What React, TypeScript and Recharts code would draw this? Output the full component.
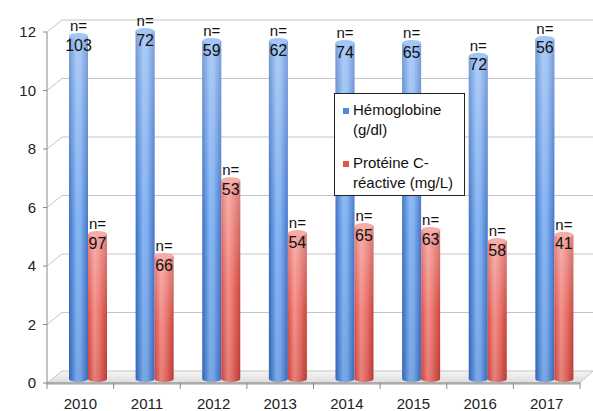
import React from "react"
import { Bar, BarChart, CartesianGrid, LabelList, XAxis, YAxis } from "recharts"

// values
const years = ["2010", "2011", "2012", "2013", "2014", "2015", "2016", "2017"]
const hemoglobin = [11.83, 12.0, 11.66, 11.66, 11.59, 11.59, 11.15, 11.73]
const crp = [5.06, 4.31, 6.9, 5.09, 5.33, 5.2, 4.82, 5.03]
const nHemoglobin = [103, 72, 59, 62, 74, 65, 72, 56]
const nCrp = [97, 66, 53, 54, 65, 63, 58, 41]
const yTicks = [0, 2, 4, 6, 8, 10, 12]
const seriesNames = ["Hémoglobine (g/dl)", "Protéine C-réactive (mg/L)"]

const data = years.map((year, i) => ({
  year,
  hb: hemoglobin[i],
  crp: crp[i],
  nHb: nHemoglobin[i],
  nCrp: nCrp[i],
}))

const W = 593
const H = 411
const Y_AXIS_W = 47
const X_AXIS_H = 28
// axis sizes get added on top of the margin
const margin = { top: 32, right: 13, bottom: 0, left: 0 }
const FONT = '"Liberation Sans", Arial, Helvetica, sans-serif'

// fake depth: bars sit halfway into the floor, back wall sits further back
const DX = 8
const DY = -4
const WALL_DX = 15
const WALL_DY = -12

const halfBand = (W - Y_AXIS_W - margin.right) / years.length / 2
const bottomY = H - X_AXIS_H

const colors = { hb: "#4f87dc", crp: "#e0554c" }
const caps = { hb: "#a3c6f6", crp: "#f7aca6" }

function cylinder(kind: "hb" | "crp") {
  return (props: any) => {
    const { x, y, width, height } = props
    if (height == null || height <= 0) return <g />
    const left = x + DX
    const top = y + DY
    const rx = width / 2
    const ry = 3
    const bottom = top + height
    const d = `M${left},${top + ry} L${left},${bottom} A${rx},${ry} 0 0 0 ${left + width},${bottom} L${left + width},${top + ry} Z`
    return (
      <g>
        <path d={d} fill={`url(#${kind}H)`} />
        <path d={d} fill="url(#shadeV)" />
        <ellipse cx={left + rx} cy={top + ry} rx={rx} ry={ry} fill={caps[kind]} />
      </g>
    )
  }
}

function countLabel(props: any) {
  const { x, y, width, value } = props
  const cx = x + width / 2 + DX
  const top = y + DY
  return (
    <g fontFamily={FONT} fill="#111" textAnchor="middle">
      <text x={cx} y={top - 7} dy="0.35em" fontSize={15}>
        n=
      </text>
      <text x={cx} y={top + 12} dy="0.35em" fontSize={16}>
        {value}
      </text>
    </g>
  )
}

function gridLine(props: any) {
  const { x1, y1, x2, index } = props
  const isFloor = Math.abs(y1 - bottomY) < 1
  if (isFloor) {
    return (
      <g key={`floor-${index}`}>
        <polygon
          points={`${x1},${y1} ${x2},${y1} ${x2 + WALL_DX - 2},${y1 + WALL_DY} ${x1 + WALL_DX},${y1 + WALL_DY}`}
          fill="url(#floorG)"
          stroke="#c4c4c4"
        />
        <rect x={x1} y={y1} width={x2 - x1} height={2} fill="#cfcfcf" />
      </g>
    )
  }
  return (
    <g key={`grid-${index}`} stroke="#c4c4c4" strokeWidth={1}>
      <line x1={x1} y1={y1} x2={x1 + WALL_DX} y2={y1 + WALL_DY} />
      <line x1={x1 + WALL_DX} y1={y1 + WALL_DY} x2={W} y2={y1 + WALL_DY} />
    </g>
  )
}

function YearTick(props: any) {
  const { x, y, payload, index } = props
  const axisY = y - 15
  return (
    <g>
      <line x1={x - halfBand} y1={axisY} x2={x - halfBand} y2={axisY + 6} stroke="#888" />
      {index === years.length - 1 && (
        <line x1={x + halfBand} y1={axisY} x2={x + halfBand} y2={axisY + 6} stroke="#888" />
      )}
      <text x={x} y={y} dy="0.71em" textAnchor="middle" fontFamily={FONT} fontSize={15} fill="#222">
        {payload.value}
      </text>
    </g>
  )
}

function LegendBox() {
  const keys: ("hb" | "crp")[] = ["hb", "crp"]
  return (
    <div
      style={{
        position: "absolute",
        left: 334,
        top: 93,
        boxSizing: "border-box",
        width: 131,
        height: 103,
        border: "1px solid #222",
        background: "#fff",
        padding: "6px 2px 0 8px",
        fontFamily: FONT,
        fontSize: 15,
        lineHeight: "20px",
        color: "#111",
        textAlign: "left",
      }}
    >
      {keys.map((k, i) => (
        <div key={k} style={{ display: "flex", alignItems: "flex-start", marginBottom: 13 }}>
          <span
            style={{
              display: "inline-block",
              width: 6,
              height: 6,
              background: colors[k],
              marginTop: 8,
              marginRight: 4,
              flex: "none",
            }}
          />
          <span style={{ width: 110 }}>{seriesNames[i]}</span>
        </div>
      ))}
    </div>
  )
}

export default function App() {
  return (
    <div style={{ position: "absolute", left: 0, top: 0, width: W, height: H, background: "#fff" }}>
      <BarChart width={W} height={H} data={data} margin={margin} barSize={19} barGap={0}>
        <defs>
          <linearGradient id="hbH" x1="0" y1="0" x2="1" y2="0">
            <stop offset="0" stopColor="#3269c2" />
            <stop offset="0.4" stopColor="#80b2f3" />
            <stop offset="0.6" stopColor="#7cadf0" />
            <stop offset="1" stopColor="#3a6ec6" />
          </linearGradient>
          <linearGradient id="crpH" x1="0" y1="0" x2="1" y2="0">
            <stop offset="0" stopColor="#d8473f" />
            <stop offset="0.35" stopColor="#f28a83" />
            <stop offset="0.6" stopColor="#ea6f67" />
            <stop offset="1" stopColor="#c63d35" />
          </linearGradient>
          <linearGradient id="shadeV" x1="0" y1="0" x2="0" y2="1">
            <stop offset="0" stopColor="#fff" stopOpacity={0.35} />
            <stop offset="0.55" stopColor="#fff" stopOpacity={0.05} />
            <stop offset="1" stopColor="#000" stopOpacity={0.06} />
          </linearGradient>
          <linearGradient id="floorG" x1="0" y1="0" x2="0" y2="1">
            <stop offset="0" stopColor="#f6f6f6" />
            <stop offset="1" stopColor="#dcdcdc" />
          </linearGradient>
        </defs>
        <CartesianGrid vertical={false} horizontal={gridLine} />
        <XAxis
          dataKey="year"
          height={X_AXIS_H}
          axisLine={{ stroke: "#888" }}
          tickLine={false}
          tickSize={6}
          tickMargin={9}
          tick={<YearTick />}
          interval={0}
        />
        <YAxis
          domain={[0, 12]}
          ticks={yTicks}
          axisLine={{ stroke: "#888" }}
          tickLine={{ stroke: "#888" }}
          tickSize={4}
          tickMargin={7}
          tick={{ fontFamily: FONT, fontSize: 15, fill: "#222" }}
          width={Y_AXIS_W}
        />
        <Bar dataKey="hb" name={seriesNames[0]} fill={colors.hb} shape={cylinder("hb")} isAnimationActive={false}>
          <LabelList dataKey="nHb" content={countLabel} />
        </Bar>
        <Bar dataKey="crp" name={seriesNames[1]} fill={colors.crp} shape={cylinder("crp")} isAnimationActive={false}>
          <LabelList dataKey="nCrp" content={countLabel} />
        </Bar>
      </BarChart>
      <LegendBox />
    </div>
  )
}
